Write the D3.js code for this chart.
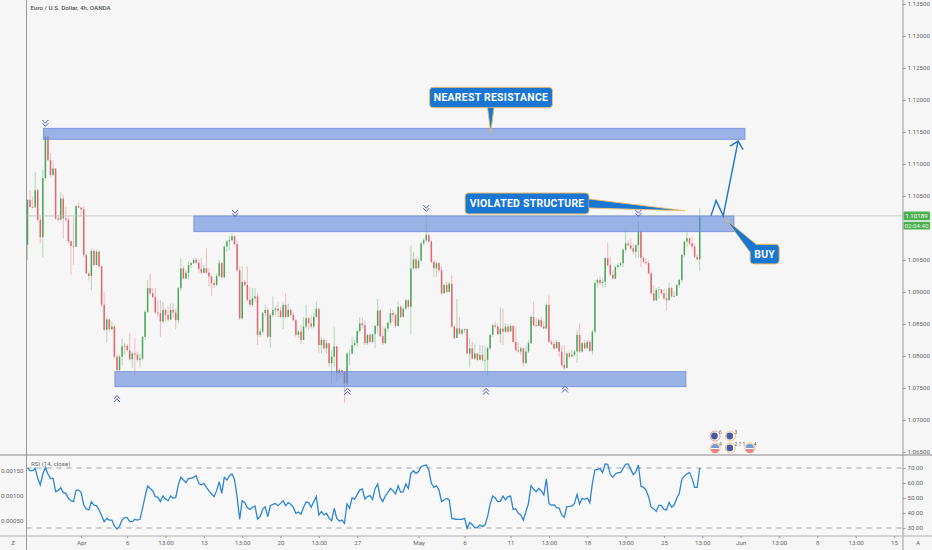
<!DOCTYPE html>
<html><head><meta charset="utf-8">
<script src="https://cdn.jsdelivr.net/npm/d3@7"></script>
<style>html,body{margin:0;padding:0;background:#f6f6f6}svg{display:block}text{font-family:Roboto,sans-serif}</style>
</head><body><div id="chart"></div>
<script>
const firstOpen = 1.0974;
const closes = [1.1044,1.1033,1.1032,1.1059,1.1013,1.0986,1.1078,1.1143,1.1106,1.1083,1.1093,1.1015,1.1013,1.1046,1.1015,1.1013,1.0979,1.0972,1.0971,1.1034,1.1032,1.1029,1.0958,1.0929,1.0925,1.0964,1.0942,1.0963,1.0940,1.0880,1.0841,1.0857,1.0842,1.0846,1.0799,1.0778,1.0799,1.0815,1.0816,1.0809,1.0795,1.0804,1.0802,1.0794,1.0796,1.0830,1.0869,1.0906,1.0898,1.0892,1.0868,1.0867,1.0854,1.0872,1.0864,1.0857,1.0872,1.0868,1.0856,1.0906,1.0937,1.0921,1.0930,1.0942,1.0945,1.0950,1.0946,1.0936,1.0930,1.0937,1.0930,1.0924,1.0914,1.0911,1.0925,1.0945,1.0923,1.0971,1.0979,1.0981,1.0987,1.0975,1.0934,1.0859,1.0916,1.0911,1.0888,1.0880,1.0890,1.0893,1.0833,1.0838,1.0867,1.0872,1.0830,1.0864,1.0872,1.0874,1.0871,1.0861,1.0880,1.0861,1.0872,1.0864,1.0856,1.0833,1.0838,1.0825,1.0846,1.0859,1.0851,
1.0846,1.0861,1.0874,1.0817,1.0825,1.0812,1.0820,1.0789,1.0799,1.0815,1.0773,1.0778,1.0776,1.0757,1.0804,1.0804,1.0817,1.0820,1.0839,1.0851,1.0848,1.0820,1.0833,1.0822,1.0834,1.0847,1.0871,1.0831,1.0820,1.0843,1.0852,1.0867,1.0864,1.0847,1.0877,1.0861,1.0874,1.0887,1.0877,1.0937,1.0951,1.0937,1.0949,1.0976,1.0981,1.0989,1.0979,1.0947,1.0937,1.0945,1.0934,1.0898,1.0911,1.0900,1.0913,1.0846,1.0828,1.0843,1.0835,1.0841,1.0842,1.0804,1.0812,1.0796,1.0804,1.0794,1.0802,1.0794,1.0794,1.0812,1.0833,1.0848,1.0846,1.0834,1.0843,1.0838,1.0846,1.0838,1.0847,1.0822,1.0809,1.0807,1.0812,1.0789,1.0807,1.0820,1.0861,1.0848,1.0847,1.0856,1.0846,1.0843,1.0880,1.0822,1.0819,1.0812,1.0822,1.0807,1.0786,1.0781,1.0804,1.0799,1.0802,1.0807,1.0833,1.0807,1.0820,1.0812,1.0822,1.0808,1.0838,1.0914,1.0919,1.0914,1.0916,1.0953,1.0942,1.0927,1.0921,1.0939,1.0942,1.0945,1.0966,1.0976,1.0973,1.0968,1.0963,1.0973,1.0994,1.0953,1.0947,1.0945,1.0929,1.0898,1.0887,1.0903,1.0904,1.0898,1.0890,1.0887,1.0906,1.0893,1.0894,1.0911,1.0919,1.0958,1.0979,1.0984,1.0976,1.0971,1.0955,1.0951,1.1019];
const highs = [1.1045,1.1059,1.1049,1.1088,1.1062,1.1018,1.1091,1.1145,1.1144,1.1117,1.1106,1.1094,1.1020,1.1056,1.1052,1.1033,1.1018,1.0981,1.1018,1.1036,1.1040,1.1032,1.1034,1.0960,1.0932,1.0968,1.0967,1.0966,1.0966,1.0942,1.0900,1.0861,1.0859,1.0854,1.0848,1.0802,1.0802,1.0828,1.0820,1.0819,1.0835,1.0807,1.0828,1.0807,1.0804,1.0831,1.0872,1.0919,1.0928,1.0906,1.0906,1.0887,1.0887,1.0885,1.0874,1.0877,1.0882,1.0882,1.0874,1.0908,1.0953,1.0940,1.0934,1.0947,1.0947,1.0953,1.0954,1.0951,1.0953,1.0942,1.0968,1.0937,1.0927,1.0919,1.0929,1.0950,1.0947,1.0973,1.0981,1.0987,1.0992,1.0989,1.0979,1.0940,1.0940,1.0919,1.0940,1.0908,1.0906,1.0906,1.0898,1.0843,1.0869,1.0880,1.0877,1.0867,1.0893,1.0877,1.0885,1.0877,1.0885,1.0898,1.0882,1.0874,1.0869,1.0859,1.0841,1.0848,1.0861,1.0880,1.0861,
1.0864,1.0867,1.0885,1.0870,1.0830,1.0828,1.0825,1.0817,1.0809,1.0846,1.0816,1.0781,1.0778,1.0776,1.0805,1.0809,1.0830,1.0825,1.0841,1.0861,1.0860,1.0856,1.0835,1.0836,1.0835,1.0848,1.0889,1.0873,1.0846,1.0846,1.0854,1.0874,1.0872,1.0867,1.0885,1.0880,1.0877,1.0890,1.0889,1.0973,1.0963,1.0955,1.0953,1.0979,1.0984,1.1020,1.0992,1.0981,1.0950,1.0947,1.0947,1.0940,1.0913,1.0916,1.0916,1.0926,1.0848,1.0889,1.0861,1.0843,1.0843,1.0843,1.0828,1.0822,1.0820,1.0804,1.0817,1.0817,1.0815,1.0815,1.0835,1.0850,1.0854,1.0851,1.0876,1.0874,1.0851,1.0850,1.0851,1.0848,1.0846,1.0822,1.0815,1.0812,1.0815,1.0825,1.0864,1.0885,1.0859,1.0859,1.0861,1.0854,1.0882,1.0895,1.0825,1.0824,1.0825,1.0822,1.0815,1.0817,1.0807,1.0807,1.0809,1.0809,1.0840,1.0851,1.0822,1.0825,1.0825,1.0825,1.0841,1.0919,1.0921,1.0924,1.0921,1.0955,1.0977,1.0955,1.0934,1.0941,1.0945,1.0947,1.0968,1.0997,1.0981,1.0984,1.0976,1.0975,1.1010,1.0997,1.0955,1.0953,1.0949,1.0932,1.0911,1.0906,1.0908,1.0904,1.0904,1.0904,1.0915,1.0908,1.0901,1.0912,1.0920,1.0959,1.0980,1.0994,1.0985,1.0986,1.0976,1.0959,1.1031];
const lows = [1.0950,1.1032,1.1031,1.1036,1.1010,1.0976,1.0954,1.1076,1.1104,1.1080,1.1081,1.1013,1.1010,1.1013,1.0984,1.1010,1.0976,1.0927,1.0942,1.0970,1.1031,1.1018,1.0955,1.0928,1.0918,1.0903,1.0941,1.0942,1.0937,1.0877,1.0838,1.0821,1.0838,1.0840,1.0796,1.0777,1.0777,1.0786,1.0802,1.0807,1.0793,1.0781,1.0770,1.0791,1.0783,1.0793,1.0825,1.0867,1.0895,1.0890,1.0866,1.0861,1.0830,1.0851,1.0854,1.0854,1.0856,1.0859,1.0842,1.0851,1.0902,1.0920,1.0920,1.0920,1.0937,1.0944,1.0944,1.0929,1.0928,1.0929,1.0928,1.0908,1.0894,1.0906,1.0909,1.0923,1.0921,1.0921,1.0963,1.0965,1.0980,1.0973,1.0932,1.0856,1.0856,1.0909,1.0885,1.0877,1.0877,1.0885,1.0817,1.0830,1.0835,1.0861,1.0828,1.0813,1.0860,1.0864,1.0861,1.0859,1.0842,1.0859,1.0861,1.0861,1.0854,1.0830,1.0828,1.0819,1.0829,1.0843,1.0841,
1.0843,1.0843,1.0860,1.0804,1.0804,1.0809,1.0804,1.0783,1.0757,1.0783,1.0760,1.0765,1.0765,1.0727,1.0752,1.0786,1.0802,1.0815,1.0815,1.0835,1.0843,1.0817,1.0817,1.0820,1.0820,1.0812,1.0835,1.0829,1.0817,1.0819,1.0838,1.0848,1.0854,1.0845,1.0847,1.0859,1.0864,1.0872,1.0874,1.0834,1.0934,1.0934,1.0942,1.0947,1.0973,1.0979,1.0977,1.0945,1.0924,1.0924,1.0932,1.0895,1.0897,1.0898,1.0906,1.0843,1.0826,1.0835,1.0834,1.0833,1.0836,1.0802,1.0782,1.0795,1.0794,1.0791,1.0793,1.0791,1.0776,1.0769,1.0809,1.0830,1.0843,1.0833,1.0820,1.0817,1.0836,1.0835,1.0843,1.0821,1.0808,1.0805,1.0802,1.0783,1.0787,1.0805,1.0819,1.0847,1.0845,1.0846,1.0844,1.0842,1.0842,1.0821,1.0817,1.0810,1.0813,1.0799,1.0783,1.0778,1.0783,1.0796,1.0800,1.0799,1.0789,1.0805,1.0805,1.0810,1.0814,1.0807,1.0802,1.0836,1.0906,1.0911,1.0907,1.0907,1.0940,1.0924,1.0920,1.0920,1.0937,1.0939,1.0939,1.0961,1.0971,1.0965,1.0959,1.0953,1.0954,1.0939,1.0945,1.0942,1.0928,1.0895,1.0885,1.0886,1.0889,1.0895,1.0887,1.0871,1.0889,1.0891,1.0892,1.0893,1.0907,1.0915,1.0954,1.0970,1.0973,1.0968,1.0953,1.0950,1.0934];
const rsiValues = [69.8,68.2,68.2,69.8,63.1,58.7,66,70.4,66,63.1,63.1,54.2,54.9,56.9,53.6,53.1,49.8,48.2,47.6,55.3,55.3,53.6,45.3,42.7,42,47.6,45.3,44.9,42,38.2,34.2,36.4,35.3,35.3,31.3,29.3,31.3,35.3,36.9,36.9,34.2,34.2,35.8,35.3,35.8,43.1,50.9,58,56.4,54.9,50.9,50.4,47.6,51.3,49.3,48.2,51.3,49.8,50.4,58.7,63.8,62,60.2,63.1,63.1,63.8,64.9,59.8,58.7,59.8,57.1,54.7,52.7,50.9,54.9,60.9,53.1,63.8,62,64.7,66,62.4,50.9,35.8,48.2,47.1,43.6,42.4,43.8,44.7,36,37.6,42.4,44.2,37.6,44.9,45.8,46.4,44.9,46.4,48.2,44.9,46.9,45.8,43.8,39.8,40.7,39.3,43.8,47.3,46.9,43.8,47.6,50.9,38.7,40.9,38.7,39.8,36.4,34.9,43.1,36.4,34.7,35.3,33.1,46,43.1,50.2,49.1,52.4,55.3,56,49.3,50.9,51.6,49.1,56.4,59.3,50.4,47.6,51.3,53.6,56.4,54.9,52.7,58.2,53.8,54.2,59.3,56.4,66.4,68.2,66.4,67.6,70.9,71.6,72,68.7,59.8,57.1,58.2,55.3,47.6,48.7,49.8,48.7,36.4,36,35.8,35.8,35.8,36.4,
29.8,33.6,32.4,30.2,30.4,32,30.9,32,37.6,46,51.3,50,47.6,47.8,51.3,48.7,50.9,51.3,42.4,42.9,39.8,38.7,35.3,40.9,46.4,58.2,55.8,54.2,56.4,54.7,52,62.7,46.4,45.1,45.5,43.5,43.3,38.7,37.1,44.2,44.4,44.7,46.4,52.4,46,49.8,49.1,50,46.9,59.8,68.7,69.1,69.6,66.9,72.7,72.4,65.8,63.8,66,66.9,66.9,69.8,72.4,72.7,69.1,65.6,67.6,72,58,57.1,55.3,50.9,43.8,42.9,41.1,45.1,45.1,42.4,42,47.1,43.8,45.3,49.8,53.1,62.4,64.7,66,67.1,63.1,57.1,57.1,70];
const priceTicks = [1.135,1.13,1.125,1.12,1.115,1.11,1.105,1.095,1.09,1.085,1.08,1.075,1.07,1.065];
const rsiTicks = [70,60,50,40,30];
const rsiBands = [70,30];
const leftTicks = [0.0015,0.001,0.0005];
const timeTickIndex = [21,39,54,69,84,99,114,129,153,171,189,204,219,234,249,264,279,294,309,324,339];
const timeTickLabels = ["Apr","6","13:00","13","13:00","20","13:00","27","May","6","11","13:00","18","13:00","25","13:00","Jun","13:00","8","13:00","15"];
const lastPrice = 1.10189;
const countdown = "02:04:40";
const title = "Euro / U.S. Dollar, 4h, OANDA";
const rsiTitle = "RSI (14, close)";
const zoneStart = [6.2,65.1,34.2];
const zoneEnd = [280.7,276.4,257.6];
const zoneTop = [1.11558,1.10188,1.07755];
const zoneBottom = [1.11386,1.09942,1.0752];
const markDownIndex = [7,81.2,156,239];
const markDownPrice = [1.11625,1.10219,1.10297,1.10219];
const markUpIndex = [35,125.2,179.4,210.3];
const markUpPrice = [1.07344,1.07458,1.07458,1.07492];
const pathIndex = [267.4,269.4,272.2,278];
const pathPrice = [1.10189,1.1043,1.10189,1.11358];
const calloutText = ["NEAREST RESISTANCE","VIOLATED STRUCTURE","BUY"];
const calloutStart = [157.3,171.2,282.7];
const calloutEnd = [205.4,219.7,294.1];
const calloutTop = [1.12198,1.10547,1.09745];
const calloutBottom = [1.1188,1.10219,1.09438];
const calloutTipIndex = [181.2,257.2,273.2];
const calloutTipPrice = [1.11489,1.1027,1.10136];
const eventIndex = [269,275,269,275,282.6];
const eventPrice = [1.0675,1.0675,1.06563,1.06563,1.06563];
const eventCount = ["6","3","4","2 1 1","4"];
const eventKind = ["eu","eu","us","eu","us"];

const W=932,H=550, left=26.5, right=903, paneTop=455, paneBottom=536;
const x=d3.scaleLinear().domain([0,339]).range([27.5,27.5+339*2.556]);
const y=d3.scaleLinear().domain([1.135,1.065]).range([4,452]);
const ry=d3.scaleLinear().domain([30,70]).range([528,468]);
const ly=d3.scaleLinear().domain([0.0005,0.0015]).range([521,471]);
const svg=d3.select("#chart").append("svg").attr("width",W).attr("height",H);
const defs=svg.append("defs");
defs.append("filter").attr("id","soft").attr("x","-5%").attr("y","-5%").attr("width","110%").attr("height","110%").append("feGaussianBlur").attr("stdDeviation",0.3);
svg.append("rect").attr("width",W).attr("height",H).attr("fill","#f6f6f6");
svg.append("rect").attr("x",left).attr("y",paneTop).attr("width",right-left).attr("height",paneBottom-paneTop).attr("fill","#f8f8f8");

const bars=closes.map((c,i)=>({i,o:i?closes[i-1]:firstOpen,c,h:highs[i],l:lows[i]}));
const up="#4ca65a",dn="#e4666c";
const cg=svg.append("g").attr("filter","url(#soft)");
cg.selectAll("line").data(bars).join("line")
 .attr("x1",d=>x(d.i)).attr("x2",d=>x(d.i)).attr("y1",d=>y(d.h)).attr("y2",d=>y(d.l))
 .attr("stroke",d=>d.c>=d.o?up:dn).attr("stroke-width",0.9).attr("stroke-opacity",0.45);
cg.selectAll("rect").data(bars).join("rect")
 .attr("x",d=>x(d.i)-0.75).attr("width",1.5)
 .attr("y",d=>y(Math.max(d.o,d.c))).attr("height",d=>Math.max(0.8,Math.abs(y(d.o)-y(d.c))))
 .attr("fill",d=>d.c>=d.o?up:dn);

svg.append("line").attr("x1",left).attr("x2",right).attr("y1",y(lastPrice)).attr("y2",y(lastPrice)).attr("stroke","#b9c4b2").attr("stroke-width",0.8);

zoneStart.forEach((s,k)=>{
 svg.append("rect").attr("x",x(s)).attr("width",x(zoneEnd[k])-x(s)).attr("y",y(zoneTop[k])).attr("height",y(zoneBottom[k])-y(zoneTop[k]))
  .attr("fill","#5f86de").attr("fill-opacity",0.6).attr("stroke","#6f8dd4").attr("stroke-width",0.8);
});

const chev=(cx,cy,dir)=>{ // dir 1 points down, -1 up
 const p=d3.path();
 [-2.4,0.8].forEach(o=>{const yy=cy+o*dir;p.moveTo(cx-3,yy-1.6*dir);p.lineTo(cx,yy+1.6*dir);p.lineTo(cx+3,yy-1.6*dir);});
 return p.toString();
};
markDownIndex.forEach((m,k)=>svg.append("path").attr("d",chev(x(m),y(markDownPrice[k]),1)).attr("fill","none").attr("stroke","#4a5cc4").attr("stroke-width",1));
markUpIndex.forEach((m,k)=>svg.append("path").attr("d",chev(x(m),y(markUpPrice[k]),-1)).attr("fill","none").attr("stroke","#4a5cc4").attr("stroke-width",1));

const ln=d3.line().x((d,i)=>x(pathIndex[i])).y((d,i)=>y(pathPrice[i]));
svg.append("path").attr("d",ln(pathIndex)).attr("fill","none").attr("stroke","#1f78c8").attr("stroke-width",1.4);
const tipX=x(pathIndex[3]),tipY=y(pathPrice[3]);
svg.append("path").attr("d",`M${tipX-8},${tipY+5}L${tipX},${tipY}L${tipX+5},${tipY+8.6}`).attr("fill","none").attr("stroke","#1f78c8").attr("stroke-width",1.4);

const blue="#1976d2",gold="#f0c067";
const bases=[(b)=>[[(b.x0+b.x1)/2-3.5,b.y1],[(b.x0+b.x1)/2+3,b.y1]],(b)=>[[b.x1,b.y0+6],[b.x1,b.y0+15]],(b)=>[[b.x0+6,b.y0],[b.x0,b.y0+8]]];
calloutText.forEach((t,k)=>{
 const b={x0:x(calloutStart[k]),x1:x(calloutEnd[k]),y0:y(calloutTop[k]),y1:y(calloutBottom[k])};
 svg.append("rect").attr("x",b.x0).attr("y",b.y0).attr("width",b.x1-b.x0).attr("height",b.y1-b.y0).attr("rx",3.5)
  .attr("fill",blue).attr("stroke",gold).attr("stroke-width",1);
 const [p,q]=bases[k](b);
 const tx=x(calloutTipIndex[k]),ty=y(calloutTipPrice[k]);
 svg.append("path").attr("d",`M${p}L${tx},${ty}L${q}`).attr("fill",blue).attr("stroke",gold).attr("stroke-width",0.9);
 svg.append("text").attr("x",(b.x0+b.x1)/2).attr("y",(b.y0+b.y1)/2+3.7).attr("text-anchor","middle").attr("fill","#fff")
  .attr("font-size",10.4).attr("font-weight",700).attr("letter-spacing",0.3).text(t);
});

// events
const eg=svg.append("g").attr("filter","url(#soft)");
eventIndex.forEach((m,k)=>{
 const cx=x(m),cy=y(eventPrice[k]);
 const g=eg.append("g");
 g.append("circle").attr("cx",cx).attr("cy",cy).attr("r",5).attr("fill","#fff").attr("stroke",k==0?"#e89aa0":"#f2c27a").attr("stroke-width",1);
 if(eventKind[k]=="us"){
  g.append("path").attr("d",`M${cx-4},${cy}A4,4 0 0 1 ${cx+4},${cy}Z`).attr("fill","#6f9bd6");
  g.append("path").attr("d",`M${cx-4},${cy+1}A4,4 0 0 0 ${cx+4},${cy+1}Z`).attr("fill","#e8838a");
 } else {
  g.append("circle").attr("cx",cx-0.6).attr("cy",cy).attr("r",3.4).attr("fill","#4a5c9f");
 }
 g.append("text").attr("x",cx+4).attr("y",cy-2).attr("font-size",5).attr("fill","#666").text(eventCount[k]);
});

// frame
svg.append("line").attr("x1",right).attr("x2",right).attr("y1",0).attr("y2",H).attr("stroke","#9a9a9a").attr("stroke-width",1);
svg.append("line").attr("x1",left).attr("x2",left).attr("y1",0).attr("y2",H).attr("stroke","#9a9a9a").attr("stroke-width",1);
svg.append("line").attr("x1",0).attr("x2",W).attr("y1",paneTop).attr("y2",paneTop).attr("stroke","#8a8a8a").attr("stroke-width",1);
svg.append("line").attr("x1",0).attr("x2",W).attr("y1",paneBottom).attr("y2",paneBottom).attr("stroke","#b0b0b0").attr("stroke-width",1);

const styleAxis=g=>{g.select(".domain").remove();g.selectAll("line").attr("stroke","#999");g.selectAll("text").attr("fill","#666").attr("font-size",6.2).attr("font-family","Roboto,sans-serif");};
svg.append("g").attr("transform",`translate(${right},0)`).call(d3.axisRight(y).tickValues(priceTicks).tickFormat(d3.format(".5f")).tickSize(2.5).tickPadding(2)).call(styleAxis);
svg.append("g").attr("transform",`translate(${right},0)`).call(d3.axisRight(ry).tickValues(rsiTicks).tickFormat(d3.format(".2f")).tickSize(2.5).tickPadding(2)).call(styleAxis);
svg.append("g").attr("transform",`translate(${left},0)`).call(d3.axisLeft(ly).tickValues(leftTicks).tickFormat(d3.format(".5f")).tickSize(0).tickPadding(3)).call(styleAxis);
svg.append("g").attr("transform",`translate(0,${paneBottom})`).call(d3.axisBottom(x).tickValues(timeTickIndex).tickFormat((d,i)=>timeTickLabels[i]).tickSize(2).tickPadding(3)).call(styleAxis);

// RSI
rsiBands.forEach(v=>svg.append("line").attr("x1",left).attr("x2",right).attr("y1",ry(v)).attr("y2",ry(v)).attr("stroke","#999").attr("stroke-width",0.9).attr("stroke-dasharray","5 5"));
svg.append("path").datum(rsiValues).attr("d",d3.line().x((d,i)=>x(i)).y(d=>ry(d))).attr("fill","none").attr("stroke","#2d86d2").attr("stroke-width",1.3);
svg.append("text").attr("x",31).attr("y",466).attr("font-size",6.2).attr("fill","#666").text(rsiTitle);
svg.append("text").attr("x",30.5).attr("y",10).attr("font-size",6.2).attr("fill","#555").attr("font-weight",500).text(title);
svg.append("text").attr("x",13).attr("y",545).attr("text-anchor","middle").attr("font-size",6.2).attr("fill","#666").text("Z");
svg.append("text").attr("x",918).attr("y",545).attr("text-anchor","middle").attr("font-size",6.2).attr("fill","#666").text("A");

// last price tags
const py=y(lastPrice);
svg.append("rect").attr("x",right+0.5).attr("y",py-4.3).attr("width",26.5).attr("height",8.6).attr("fill","#4caf50").attr("rx",1);
svg.append("text").attr("x",right+13.5).attr("y",py+2).attr("text-anchor","middle").attr("font-size",6.2).attr("fill","#fff").text(d3.format(".5f")(lastPrice));
svg.append("rect").attr("x",right+0.5).attr("y",py+5.8).attr("width",26.5).attr("height",7.8).attr("fill","#4caf50").attr("rx",1);
svg.append("text").attr("x",right+13.5).attr("y",py+11.8).attr("text-anchor","middle").attr("font-size",6.2).attr("fill","#e8f5e9").text(countdown);
</script></body></html>
